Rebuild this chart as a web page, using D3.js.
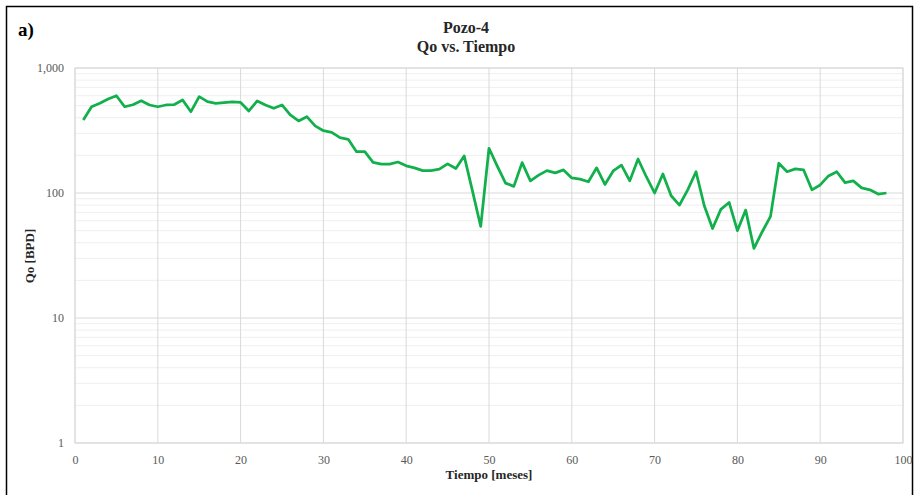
<!DOCTYPE html>
<html><head><meta charset="utf-8">
<script src="https://cdn.jsdelivr.net/npm/d3@7"></script>
<style>body{margin:0;background:#fff}svg{display:block}</style>
</head><body>
<svg id="c" width="915" height="495"></svg>
<script>
const months = d3.range(1, 99);
const qo = [384,490,522,565,600,490,508,547,506,490,
            506,510,555,447,590,538,522,528,535,530,
            453,545,506,476,506,421,377,408,344,315,
            306,277,269,214,214,176,170,170,177,165,
            159,151,151,155,171,157,198,104,54,228,
            164,120,113,175,125,139,151,145,153,132,
            129,123,159,117,150,167,125,187,135,100,
            142,95,80,106,148,79,52,74,84,50,
            73,36,49,65,173,148,156,153,106,116,
            137,148,121,125,110,106,98,100];
const xTicks = d3.range(0, 101, 10);
const yTicks = [1, 10, 100, 1000];
const title1 = "Pozo-4", title2 = "Qo vs. Tiempo";
const xTitle = "Tiempo [meses]", yTitle = "Qo [BPD]";

const svg = d3.select("#c");
const L = 75, R = 903, T = 68, B = 443;
const x = d3.scaleLinear().domain([0, 100]).range([L, R]);
const y = d3.scaleLog().domain([1, 1000]).range([B, T]);
const font = "'Liberation Serif','Times New Roman',serif";

// outer frame
svg.append("rect").attr("x", 6.5).attr("y", 6.5).attr("width", 906).attr("height", 500)
  .attr("fill", "none").attr("stroke", "#000").attr("stroke-width", 1.5);

// minor grid
const minor = [];
for (let d = 1; d < 1000; d *= 10) for (let k = 2; k <= 9; k++) minor.push(d * k);
svg.append("g").selectAll("line").data(minor).join("line")
  .attr("x1", L).attr("x2", R).attr("y1", d => y(d)).attr("y2", d => y(d))
  .attr("stroke", "#efefef").attr("stroke-width", 1);
// major grid
svg.append("g").selectAll("line").data(yTicks).join("line")
  .attr("x1", L).attr("x2", R).attr("y1", d => y(d)).attr("y2", d => y(d))
  .attr("stroke", "#d9d9d9").attr("stroke-width", 1);
svg.append("g").selectAll("line").data(xTicks).join("line")
  .attr("x1", d => x(d)).attr("x2", d => x(d)).attr("y1", T).attr("y2", B)
  .attr("stroke", "#d9d9d9").attr("stroke-width", 1);
svg.append("rect").attr("x", L).attr("y", T).attr("width", R - L).attr("height", B - T)
  .attr("fill", "none").attr("stroke", "#d9d9d9").attr("stroke-width", 1);

// axes labels
const xAxis = d3.axisBottom(x).tickValues(xTicks).tickSize(0).tickPadding(12);
svg.append("g").attr("transform", `translate(0,${B})`).call(xAxis)
  .call(g => g.select(".domain").remove())
  .selectAll("text").attr("font-family", font).attr("font-size", 12).attr("fill", "#595959");
const yAxis = d3.axisLeft(y).tickValues(yTicks).tickSize(0).tickPadding(11).tickFormat(d3.format(","));
svg.append("g").attr("transform", `translate(${L},0)`).call(yAxis)
  .call(g => g.select(".domain").remove())
  .selectAll("text").attr("font-family", font).attr("font-size", 12).attr("fill", "#595959");

// line
const line = d3.line().x((d, i) => x(months[i])).y(d => y(d));
svg.append("path").datum(qo).attr("d", line).attr("fill", "none")
  .attr("stroke", "#12b04c").attr("stroke-width", 2.75).attr("stroke-linejoin", "round");

// titles
svg.append("text").attr("x", 466).attr("y", 33).attr("text-anchor", "middle")
  .attr("font-family", font).attr("font-weight", "bold").attr("font-size", 16).attr("fill", "#262626").text(title1);
svg.append("text").attr("x", 466).attr("y", 52).attr("text-anchor", "middle")
  .attr("font-family", font).attr("font-weight", "bold").attr("font-size", 16).attr("fill", "#262626").text(title2);
svg.append("text").attr("x", 18).attr("y", 36)
  .attr("font-family", font).attr("font-weight", "bold").attr("font-size", 19).attr("fill", "#000").text("a)");
svg.append("text").attr("x", 489).attr("y", 479).attr("text-anchor", "middle")
  .attr("font-family", font).attr("font-weight", "bold").attr("font-size", 13).attr("fill", "#262626").text(xTitle);
svg.append("text").attr("transform", "translate(34,256) rotate(-90)").attr("text-anchor", "middle")
  .attr("font-family", font).attr("font-weight", "bold").attr("font-size", 13).attr("fill", "#262626").text(yTitle);
</script>
</body></html>
